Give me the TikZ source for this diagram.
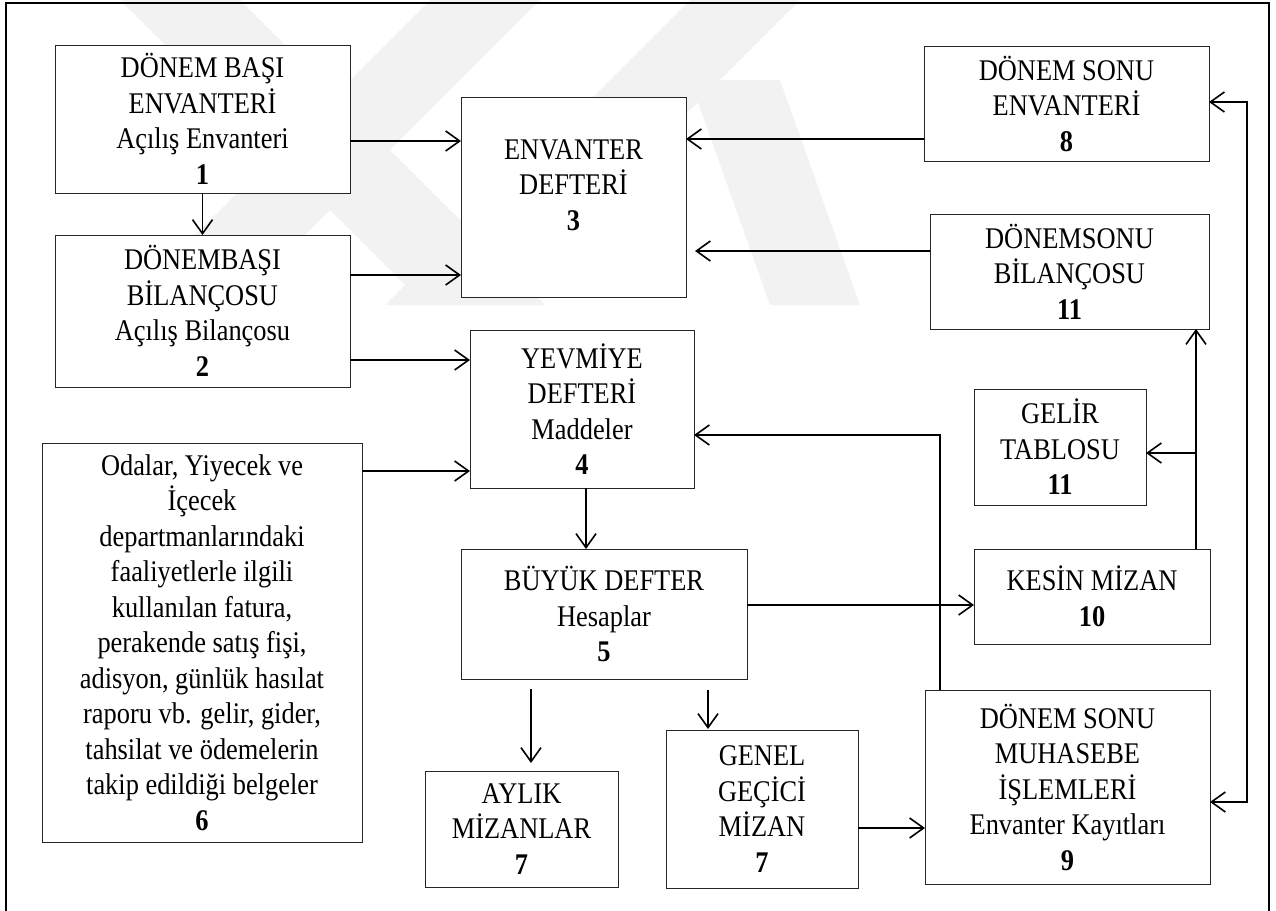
\documentclass[tikz,border=0pt]{standalone}
\usepackage{fontspec}
\setmainfont{Liberation Serif}[FakeStretch=0.88]
\usetikzlibrary{arrows.meta}
\begin{document}
\begin{tikzpicture}[x=1pt,y=-1pt,
  box/.style={draw=black!85, line width=1pt, fill=white, inner sep=0pt, outer sep=0pt,
    align=center, font=\fontsize{30}{35.5}\selectfont},
  txt/.style={inner sep=0pt, align=center, font=\fontsize{30}{35.5}\selectfont},
  conn/.style={line width=1.6pt, -{Straight Barb[length=14pt,width=20pt,line width=1.6pt]}},
  conn2/.style={line width=1.6pt, {Straight Barb[length=14pt,width=20pt,line width=1.6pt]}-{Straight Barb[length=14pt,width=20pt,line width=1.6pt]}},
  wm/.style={fill=black!5, draw=none}]
\useasboundingbox (0,0) rectangle (1276,910);
% faint watermark bands
\fill[wm] (120,0) -- (240,0) -- (545,305) -- (425,305) -- cycle;
\fill[wm] (430,0) -- (540,0) -- (235,305) -- (125,305) -- cycle;
\fill[wm] (690,0) -- (800,0) -- (495,305) -- (385,305) -- cycle;
\fill[wm] (690,80) -- (780,80) -- (860,305) -- (770,305) -- cycle;
\draw[line width=2.6pt] (6,3) rectangle (1269,940);

% boxes
\node[box, minimum width=295pt, minimum height=148pt] (b1) at (202.5,119)
  {DÖNEM BAŞI\\ENVANTERİ\\Açılış Envanteri\\\textbf{1}};
\node[box, minimum width=295pt, minimum height=152pt] (b2) at (202.5,311)
  {DÖNEMBAŞI\\BİLANÇOSU\\Açılış Bilançosu\\\textbf{2}};
\node[box, minimum width=225pt, minimum height=200pt] (b3) at (573.5,197) {};
\node[txt] (t3) at (573.5,185) {ENVANTER\\DEFTERİ\\\textbf{3}};
\node[box, minimum width=224pt, minimum height=158pt] (b4) at (582,409)
  {YEVMİYE\\DEFTERİ\\Maddeler\\\textbf{4}};
\node[box, minimum width=320pt, minimum height=399pt] (b6) at (202,642.5)
  {Odalar, Yiyecek ve\\İçecek\\departmanlarındaki\\faaliyetlerle ilgili\\kullanılan fatura,\\perakende satış fişi,\\adisyon, günlük hasılat\\raporu vb. gelir, gider,\\tahsilat ve ödemelerin\\takip edildiği belgeler\\\textbf{6}};
\node[box, minimum width=286pt, minimum height=130pt] (b5) at (604,614)
  {BÜYÜK DEFTER\\Hesaplar\\\textbf{5}};
\node[box, minimum width=193pt, minimum height=116pt] (b7a) at (521.5,829)
  {AYLIK\\MİZANLAR\\\textbf{7}};
\node[box, minimum width=192pt, minimum height=158pt] (b7b) at (762,809)
  {GENEL\\GEÇİCİ\\MİZAN\\\textbf{7}};
\node[box, minimum width=285pt, minimum height=194pt] (b9) at (1067.5,787)
  {DÖNEM SONU\\MUHASEBE\\İŞLEMLERİ\\Envanter Kayıtları\\\textbf{9}};
\node[box, minimum width=236pt, minimum height=95pt] (b10) at (1092,596.5)
  {KESİN MİZAN\\\textbf{10}};
\node[box, minimum width=172pt, minimum height=116pt] (b11b) at (1060,447)
  {GELİR\\TABLOSU\\\textbf{11}};
\node[box, minimum width=279pt, minimum height=115pt] (b11) at (1069.5,271.5)
  {DÖNEMSONU\\BİLANÇOSU\\\textbf{11}};
\node[box, minimum width=285pt, minimum height=115pt] (b8) at (1066.5,103.5)
  {DÖNEM SONU\\ENVANTERİ\\\textbf{8}};

% connectors
\draw[conn] (b1.east |- 0,141) -- (b3.west |- 0,141);
\draw[conn] (b1.south) -- (b2.north);
\draw[conn] (b2.east |- 0,275) -- (b3.west |- 0,275);
\draw[conn] (b2.east |- 0,360) -- (b4.west |- 0,360);
\draw[conn] (b6.east |- 0,471) -- (b4.west |- 0,471);
\draw[conn] (b4.south -| 586,0) -- (b5.north -| 586,0);
\draw[conn, shorten <=10pt, shorten >=8pt] (b5.south -| 531,0) -- (b7a.north -| 531,0);
\draw[conn, shorten <=11pt, shorten >=1pt] (b5.south -| 708,0) -- (b7b.north -| 708,0);
\draw[conn] (b7b.east |- 0,828) -- (b9.west |- 0,828);
\coordinate (c94) at (940,435);
\draw[conn] (b9.north -| c94) -- (c94) -- (b4.east |- c94);
\draw[conn] (b5.east |- 0,605) -- (b10.west |- 0,605);
\coordinate (cj) at (1196,453);
\draw[conn] (b10.north -| cj) -- (b11.south -| cj);
\draw[conn] (cj) -- (b11b.east |- cj);
\draw[conn] (b8.west |- 0,139) -- (b3.east |- 0,139);
\draw[conn, shorten >=9pt] (b11.west |- 0,251) -- (b3.east |- 0,251);
\coordinate (r1) at (1247,102);
\coordinate (r2) at (1247,802);
\draw[conn2] (b8.east |- r1) -- (r1) -- (r2) -- (b9.east |- r2);
\end{tikzpicture}
\end{document}
